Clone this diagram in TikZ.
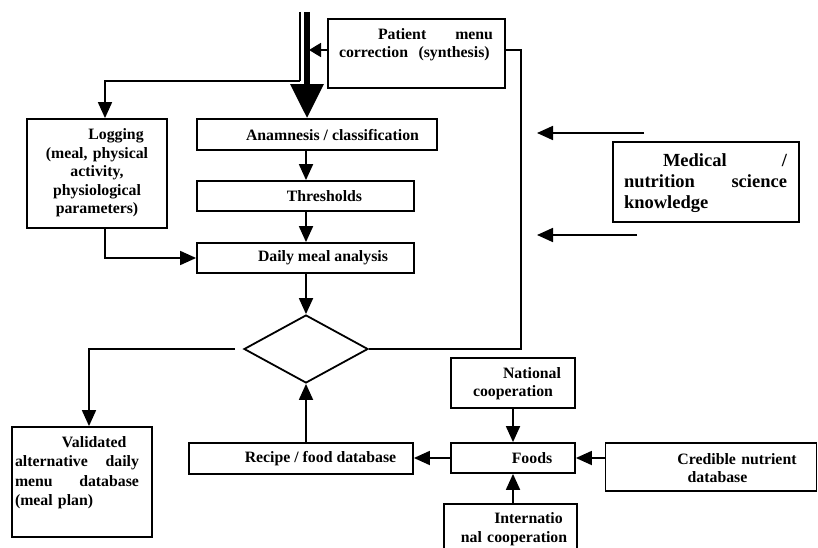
\documentclass[tikz,border=0pt]{standalone}
\usepackage{fontspec}
\setmainfont{Liberation Serif}
\usetikzlibrary{arrows.meta,shapes.geometric}
\begin{document}
\begin{tikzpicture}[x=1pt,y=-1pt,
  box/.style={draw, line width=1.8pt, inner sep=0pt},
  txt/.style={inner sep=0pt, font=\bfseries\fontsize{15.8}{18.5}\selectfont},
  conn/.style={line width=1.8pt},
  arr/.style={conn, -{Triangle[length=16pt,width=14pt]}},
]
\clip (0,0) rectangle (818,548);
% boxes
\node[box, minimum width=177pt, minimum height=69pt] (pat) at (416.5,53.5) {};
\node[box, minimum width=140pt, minimum height=109pt] (log) at (97,173.5) {};
\node[box, minimum width=240pt, minimum height=31pt] (anam) at (317,134.5) {};
\node[box, minimum width=217pt, minimum height=30pt] (thr) at (305.5,196) {};
\node[box, minimum width=217pt, minimum height=30pt] (daily) at (305.5,258) {};
\node[draw, diamond, line width=1.8pt, minimum width=124pt, minimum height=68pt, inner sep=0pt] (dia) at (306,349) {};
\node[box, minimum width=140pt, minimum height=110pt] (val) at (82,482) {};
\node[box, minimum width=224pt, minimum height=31pt] (rec) at (301,458.5) {};
\node[box, minimum width=124pt, minimum height=30pt] (foods) at (513,458) {};
\node[box, minimum width=124pt, minimum height=50pt] (nat) at (513,383) {};
\node[box, minimum width=211pt, minimum height=48pt] (cred) at (711,467) {};
\node[box, minimum width=133pt, minimum height=52pt] (intl) at (510.5,530) {};
\node[box, minimum width=186pt, minimum height=80pt] (med) at (706,182) {};
% texts
\node[txt, text width=154pt, align=left] (patT) at (416,44.5)
  {\hspace*{39pt}Patient\hfill menu\\correction~~(synthesis)};
\node[txt, text width=135pt, align=center] (logT) at (97,173)
  {\hspace*{38pt}Logging\\(meal, physical\\activity,\\physiological\\parameters)};
\node[txt] (anamT) at (332.5,135) {Anamnesis / classification};
\node[txt] (thrT) at (324.5,196) {Thresholds};
\node[txt] (dailyT) at (323,258) {Daily meal analysis};
\node[txt] (recT) at (320.5,459) {Recipe / food database};
\node[txt] (foodsT) at (532,458) {Foods};
\node[txt, text width=120pt, align=center] (natT) at (513,383.5)
  {\hspace*{38pt}National\\cooperation};
\node[txt, text width=180pt, align=center] (credT) at (717.5,468)
  {\hspace*{39pt}Credible nutrient\\database};
\node[txt, text width=130pt, align=center] (intlT) at (514,529)
  {\hspace*{29pt}Internatio\\nal cooperation};
\node[txt, text width=163pt, align=left, font=\bfseries\fontsize{18.5}{21}\selectfont] (medT) at (705.5,183)
  {\hspace*{39pt}Medical\hfill /\\nutrition\hfill science\\knowledge};
\node[txt, text width=124pt, align=left, font=\bfseries\fontsize{15.8}{19.5}\selectfont] (valT) at (77,472.5)
  {\hspace*{47pt}Validated\\alternative\hfill daily\\menu\hfill database\\(meal plan)};
% helper coordinates
\coordinate (thin) at (300,12);
\coordinate (thk) at (307,12);
\coordinate (py) at (0,50);
\coordinate (lx) at (105,0);
\coordinate (ax) at (306,0);
\coordinate (rx) at (521,0);
\coordinate (vx) at (89,0);
\coordinate (m1s) at (644,133);
\coordinate (m1e) at (537,133);
\coordinate (m2s) at (637,235);
\coordinate (m2e) at (537,235);
% connectors
\draw[line width=1.3pt] (thin) -- (300,81);
\draw[arr] (thin |- 0,81) -- (lx |- 0,81) -- (lx |- log.north);
\draw[line width=6pt, -{Triangle[length=34pt,width=32pt]}] (thk) -- (thk |- anam.north);
\draw[conn, -{Triangle[length=12pt,width=14pt]}, shorten >=-1pt] (pat.west |- py) -- (310,50);
\draw[conn] (pat.east |- py) -| (rx |- dia.east) -- (dia.east);
\draw[arr] (ax |- anam.south) -- (ax |- thr.north);
\draw[arr] (ax |- thr.south) -- (ax |- daily.north);
\draw[arr] (lx |- log.south) |- (daily.west);
\draw[arr] (ax |- daily.south) -- (dia.north);
\draw[arr, shorten <=8pt] (dia.west) -| (vx |- val.north);
\draw[arr] (ax |- rec.north) -- (dia.south);
\draw[arr] (foods.west) -- (rec.east |- foods.west);
\draw[arr] (cred.west |- foods.east) -- (foods.east);
\draw[arr] (nat.south) -- (foods.north);
\draw[arr] (foods.south |- intl.north) -- (foods.south);
\draw[arr] (m1s) -- (m1e);
\draw[arr] (m2s) -- (m2e);
\end{tikzpicture}
\end{document}
